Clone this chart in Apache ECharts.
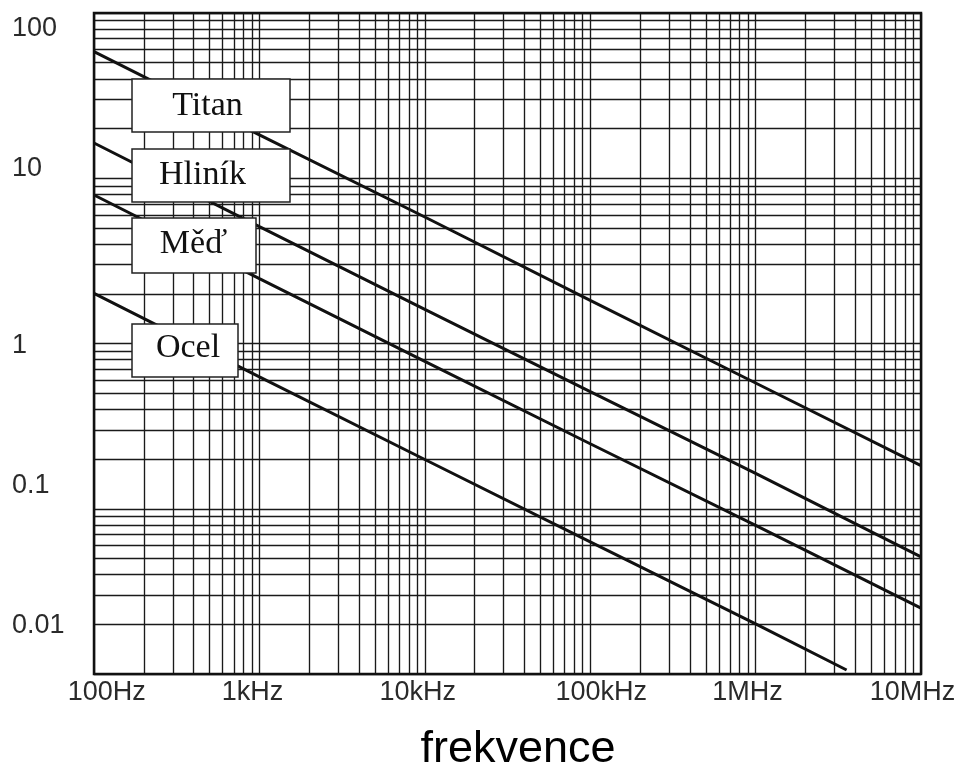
<!DOCTYPE html>
<html><head><meta charset="utf-8">
<script src="https://cdn.jsdelivr.net/npm/echarts@6/dist/echarts.min.js"></script>
<style>html,body{margin:0;padding:0;background:#fff}#c{width:961px;height:772px}</style>
</head><body><div id="c"></div>
<script>
// ---- data ----
const xTickValues = [100, 1000, 10000, 100000, 1000000, 10000000];
const xTickLabels = ['100Hz', '1kHz', '10kHz', '100kHz', '1MHz', '10MHz'];
const yTickValues = [100, 10, 1, 0.1, 0.01];
const yTickLabels = ['100', '10', '1', '0.1', '0.01'];
const xTitle = 'frekvence';
const seriesNames = ['Titan', 'Hliník', 'Měď', 'Ocel'];

const freqTitan = [100, 1000, 10000, 100000, 1000000, 10000000];
const titan = [68.3, 19.2, 5.49, 1.54, 0.437, 0.124];
const freqHlinik = [100, 1000, 10000, 100000, 1000000, 10000000];
const hlinik = [16.97, 4.74, 1.342, 0.383, 0.110, 0.0308];
const freqMed = [100, 1000, 10000, 100000, 1000000, 10000000];
const med = [7.68, 2.144, 0.607, 0.173, 0.0498, 0.0141];
const freqOcel = [100, 1000, 10000, 100000, 1000000, 3550000];
const ocel = [1.715, 0.479, 0.136, 0.0387, 0.0111, 0.00549];

// ---- chart ----
const chart = echarts.init(document.getElementById('c'), null, {renderer: 'canvas'});
const zip = (xs, ys) => xs.map((x, i) => [x, ys[i]]);
const findIdx = (arr, v) => arr.findIndex(t => Math.abs(Math.log10(t) - Math.log10(v)) < 1e-6);

const labelFont = '"Liberation Sans", Arial, sans-serif';
const gridLine = {color: '#1a1a1a', width: 1.35};
const xShift = [12.7, -6.9, -7, 11, -8.2, -8.5];
const rich = {};
xTickLabels.forEach((_, i) => {
  const s = xShift[i];
  rich['l' + i] = {
    fontSize: 27, fontFamily: labelFont, color: '#2a2a2a',
    padding: s > 0 ? [0, 0, 0, 2 * s] : [0, -2 * s, 0, 0]
  };
});
// vertical nudges of the printed y labels (positive = down)
const yShift = [2, -9, 17, 5.7, -5.3];
const yRich = {};
yTickLabels.forEach((_, i) => {
  const s = yShift[i];
  yRich['y' + i] = {
    fontSize: 27, fontFamily: labelFont, color: '#2a2a2a', align: 'left',
    padding: s > 0 ? [2 * s, 0, 0, 0] : [0, 0, -2 * s, 0]
  };
});

const lineSeries = (name, xs, ys) => ({
  name, type: 'line', xAxisIndex: 0, yAxisIndex: 0,
  data: zip(xs, ys), showSymbol: false, symbol: 'none',
  lineStyle: {color: '#111', width: 3}, z: 5, silent: true
});

const boxes = [
  {t: seriesNames[0], x: 132, y: 79, w: 158, h: 53, tx: 207.5, ty: 106.5},
  {t: seriesNames[1], x: 132, y: 149, w: 158, h: 53, tx: 202.5, ty: 175.5},
  {t: seriesNames[2], x: 132, y: 218, w: 124, h: 55, tx: 193.5, ty: 244.5},
  {t: seriesNames[3], x: 132, y: 324, w: 106, h: 53, tx: 188, ty: 348.5}
];
const graphic = [];
boxes.forEach(b => {
  graphic.push({type: 'rect', z: 100, shape: {x: b.x, y: b.y, width: b.w, height: b.h},
    style: {fill: '#fff', stroke: '#222', lineWidth: 1.5}});
  graphic.push({type: 'text', z: 101, x: b.tx, y: b.ty,
    style: {text: b.t, font: '34px "Liberation Serif", "Times New Roman", serif', fill: '#111',
      align: 'center', verticalAlign: 'middle', textAlign: 'center', textVerticalAlign: 'middle'}});
});
graphic.push({type: 'text', z: 101, x: 518, y: 750,
  style: {text: xTitle, font: '45px "Liberation Sans", Arial, sans-serif', fill: '#000',
    align: 'center', verticalAlign: 'middle', textAlign: 'center', textVerticalAlign: 'middle'}});

const option = {
  animation: false,
  backgroundColor: '#fff',
  grid: {left: 94, right: 40, top: 13, bottom: 98, show: true, borderColor: '#111', borderWidth: 2.5, backgroundColor: 'transparent', z: 10},
  xAxis: [{
    type: 'log', logBase: 10, min: 100, max: 10000000,
    axisLine: {show: false}, axisTick: {show: false},
    axisLabel: {show: true, margin: 5, formatter: v => { const i = findIdx(xTickValues, v); return i < 0 ? '' : '{l' + i + '|' + xTickLabels[i] + '}'; }, rich: rich},
    splitLine: {show: true, lineStyle: gridLine},
    minorTick: {show: false, splitNumber: 9},
    minorSplitLine: {show: true, lineStyle: gridLine}
  }],
  yAxis: [{
    // value axis carrying the printed labels
    type: 'log', logBase: 10, min: 0.005166, max: 123.2, position: 'left',
    axisLine: {show: false}, axisTick: {show: false}, splitLine: {show: false},
    axisLabel: {show: true, align: 'left', margin: 82, fontSize: 27, fontFamily: labelFont, color: '#2a2a2a',
      formatter: v => { const i = findIdx(yTickValues, v); return i < 0 ? '' : '{y' + i + '|' + yTickLabels[i] + '}'; }, rich: yRich}
  }, {
    // log grid
    type: 'log', logBase: 10, min: 0.01, max: 100, position: 'left',
    axisLine: {show: false}, axisTick: {show: false}, axisLabel: {show: false},
    splitLine: {show: true, lineStyle: gridLine},
    minorTick: {show: false, splitNumber: 9},
    minorSplitLine: {show: true, lineStyle: gridLine}
  }],
  series: [
    lineSeries(seriesNames[0], freqTitan, titan),
    lineSeries(seriesNames[1], freqHlinik, hlinik),
    lineSeries(seriesNames[2], freqMed, med),
    lineSeries(seriesNames[3], freqOcel, ocel)
  ],
  graphic: graphic
};
chart.setOption(option);
</script>
</body></html>
